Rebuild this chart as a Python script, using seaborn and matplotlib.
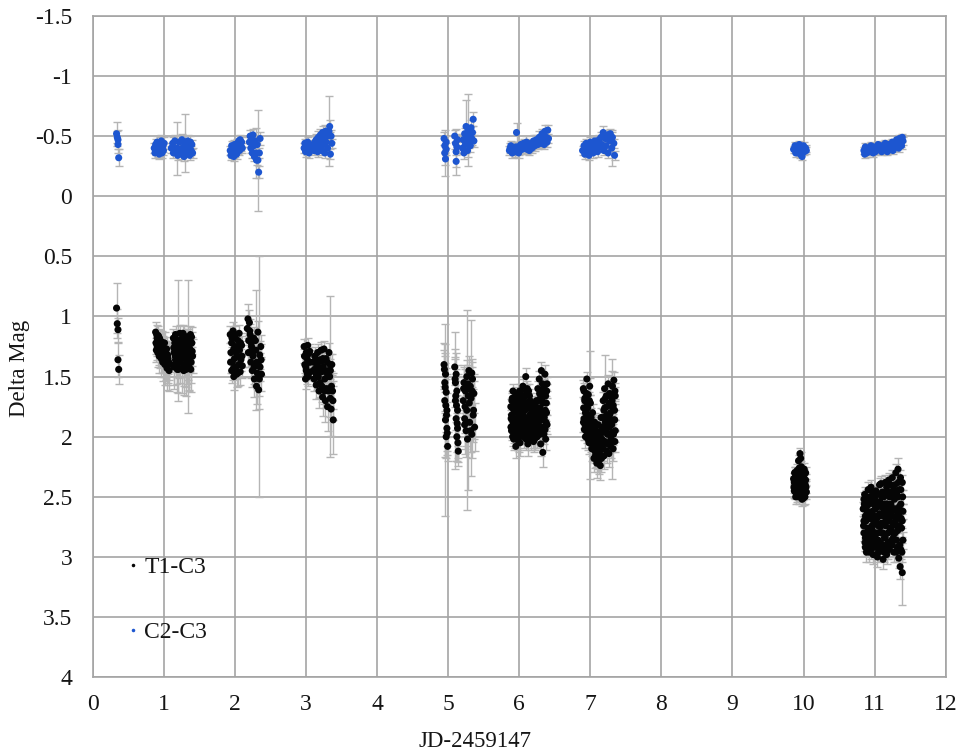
import numpy as np
import pandas as pd
import matplotlib
matplotlib.use("Agg")
import matplotlib.pyplot as plt
import seaborn as sns
from matplotlib.ticker import FuncFormatter

sns.set_theme(style="whitegrid")
plt.rcParams["font.family"] = ["Liberation Serif", "DejaVu Serif"]
plt.rcParams["axes.unicode_minus"] = False

SERIES = ["T1-C3", "C2-C3"]

# ---------------- T1-C3 : JD offset, delta mag, error, per night
t1_jd_n0 = [0.33, 0.34, 0.35, 0.35, 0.36]
t1_mag_n0 = [0.93, 1.06, 1.11, 1.36, 1.44]
t1_err_n0 = [0.21, 0.12, 0.10, 0.14, 0.12]

t1_jd_n1 = [0.88, 0.89, 0.90, 0.90, 0.91, 0.92, 0.93, 0.93, 0.94, 0.95, 0.96, 0.96, 0.97, 0.98, 0.99, 1.00,
            1.01, 1.02, 1.03, 1.04, 1.05, 1.06, 1.07,
            1.13, 1.14, 1.14, 1.15, 1.16, 1.16, 1.17, 1.18, 1.19, 1.19, 1.20, 1.21, 1.22, 1.22, 1.23, 1.24,
            1.25, 1.25, 1.26, 1.27, 1.28, 1.28, 1.29, 1.30, 1.31, 1.31, 1.32, 1.33, 1.34, 1.34, 1.35, 1.36,
            1.37, 1.37, 1.38, 1.39, 1.40,
            0.885, 0.895, 0.905, 0.915, 0.925, 0.935, 0.945, 0.955, 0.965, 0.975, 0.985, 0.995, 1.005, 1.015,
            1.025, 1.035, 1.045, 1.055, 1.065,
            1.135, 1.155, 1.175, 1.195, 1.215, 1.235, 1.255, 1.275, 1.295, 1.315, 1.335, 1.355, 1.375, 1.395,
            1.145, 1.185, 1.225, 1.265, 1.305, 1.345, 1.385]
t1_mag_n1 = [1.13, 1.28, 1.18, 1.24, 1.30, 1.16, 1.22, 1.33, 1.20, 1.27, 1.35, 1.23, 1.30, 1.38, 1.26, 1.33,
             1.40, 1.29, 1.36, 1.43, 1.32, 1.40, 1.45,
             1.18, 1.30, 1.42, 1.22, 1.36, 1.15, 1.27, 1.40, 1.20, 1.33, 1.44, 1.25, 1.14, 1.38, 1.29, 1.19,
             1.35, 1.43, 1.24, 1.31, 1.16, 1.40, 1.27, 1.35, 1.21, 1.44, 1.30, 1.18, 1.25, 1.37, 1.42, 1.32,
             1.15, 1.28, 1.38, 1.22, 1.33,
             1.22, 1.15, 1.26, 1.20, 1.29, 1.18, 1.31, 1.25, 1.21, 1.34, 1.29, 1.36, 1.22, 1.32,
             1.38, 1.27, 1.41, 1.35, 1.38,
             1.26, 1.33, 1.20, 1.29, 1.36, 1.21, 1.28, 1.45, 1.19, 1.39, 1.17, 1.26, 1.44, 1.29,
             1.40, 1.44, 1.32, 1.14, 1.41, 1.43, 1.17]
t1_err_n1 = [0.08, 0.10, 0.07, 0.09, 0.12, 0.08, 0.10, 0.14, 0.09, 0.11, 0.15, 0.08, 0.12, 0.16, 0.10, 0.13,
             0.17, 0.09, 0.14, 0.18, 0.11, 0.15, 0.17,
             0.08, 0.12, 0.18, 0.09, 0.14, 0.07, 0.11, 0.16, 0.50, 0.13, 0.20, 0.10, 0.07, 0.17, 0.12, 0.08,
             0.15, 0.21, 0.10, 0.13, 0.08, 0.18, 0.11, 0.15, 0.09, 0.22, 0.12, 0.08, 0.55, 0.16, 0.19, 0.13,
             0.07, 0.11, 0.17, 0.09, 0.14,
             0.09, 0.08, 0.10, 0.09, 0.11, 0.08, 0.12, 0.10, 0.09, 0.13, 0.11, 0.14, 0.09, 0.12,
             0.15, 0.10, 0.16, 0.13, 0.15,
             0.10, 0.13, 0.08, 0.11, 0.15, 0.09, 0.11, 0.20, 0.08, 0.17, 0.07, 0.10, 0.19, 0.12,
             0.17, 0.19, 0.13, 0.07, 0.18, 0.19, 0.08]

t1_jd_n2 = [1.93, 1.94, 1.95, 1.95, 1.96, 1.97, 1.98, 1.98, 1.99, 2.00, 2.01, 2.01, 2.02, 2.03, 2.04, 2.05,
            2.06, 2.07, 2.08, 2.09, 2.10,
            2.17, 2.18, 2.19, 2.20, 2.20, 2.21, 2.22, 2.23, 2.24, 2.25, 2.26, 2.27, 2.28, 2.29, 2.30, 2.31,
            2.32, 2.33, 2.33, 2.34, 2.35, 2.36, 2.37,
            1.935, 1.955, 1.975, 1.995, 2.015, 2.035, 2.055, 2.075, 2.095,
            2.185, 2.205, 2.225, 2.245, 2.265, 2.285, 2.305, 2.325, 2.345, 2.365]
t1_mag_n2 = [1.15, 1.30, 1.45, 1.22, 1.38, 1.12, 1.50, 1.27, 1.35, 1.18, 1.42, 1.25, 1.48, 1.33, 1.20, 1.40,
             1.28, 1.46, 1.36, 1.24, 1.41,
             1.10, 1.02, 1.20, 1.05, 1.30, 1.15, 1.38, 1.25, 1.45, 1.33, 1.18, 1.52, 1.40, 1.28, 1.58, 1.47,
             1.13, 1.50, 1.61, 1.52, 1.42, 1.25, 1.48,
             1.38, 1.18, 1.43, 1.15, 1.30, 1.47, 1.14, 1.22, 1.33,
             1.30, 1.12, 1.22, 1.30, 1.42, 1.20, 1.38, 1.40, 1.32, 1.36]
t1_err_n2 = [0.07, 0.09, 0.10, 0.08, 0.09, 0.07, 0.11, 0.08, 0.09, 0.07, 0.10, 0.08, 0.11, 0.09, 0.07, 0.10,
             0.08, 0.11, 0.09, 0.08, 0.10,
             0.10, 0.12, 0.09, 0.10, 0.12, 0.09, 0.13, 0.10, 0.14, 0.12, 0.09, 0.15, 0.13, 0.50, 0.15, 0.13,
             0.09, 1.00, 0.16, 0.14, 0.12, 0.10, 0.14,
             0.09, 0.07, 0.10, 0.07, 0.08, 0.11, 0.07, 0.08, 0.09,
             0.12, 0.10, 0.11, 0.12, 0.14, 0.10, 0.13, 0.14, 0.12, 0.13]

t1_jd_n3 = [2.97, 2.98, 2.99, 3.00, 3.00, 3.01, 3.02, 3.03, 3.04, 3.05, 3.06,
            3.10, 3.11, 3.12, 3.13, 3.14, 3.15, 3.16, 3.17, 3.18, 3.19, 3.20, 3.21, 3.22, 3.23, 3.24, 3.25,
            3.26, 3.27, 3.28, 3.29, 3.30, 3.31, 3.32, 3.33, 3.34, 3.35, 3.36, 3.37, 3.38,
            3.14, 3.18, 3.22, 3.26, 3.30, 3.34,
            2.975, 2.995, 3.015, 3.035, 3.055,
            3.115, 3.135, 3.155, 3.175, 3.195, 3.215, 3.235, 3.255, 3.275, 3.295, 3.315, 3.335, 3.355, 3.375]
t1_mag_n3 = [1.25, 1.40, 1.52, 1.30, 1.45, 1.35, 1.24, 1.50, 1.38, 1.29, 1.46,
             1.38, 1.52, 1.33, 1.45, 1.57, 1.40, 1.30, 1.50, 1.62, 1.36, 1.45, 1.28, 1.58, 1.67, 1.42, 1.27,
             1.52, 1.70, 1.35, 1.60, 1.75, 1.45, 1.30, 1.50, 1.68, 1.77, 1.40, 1.62, 1.86,
             1.48, 1.56, 1.37, 1.62, 1.50, 1.45,
             1.33, 1.42, 1.48, 1.31, 1.38,
             1.44, 1.36, 1.50, 1.42, 1.55, 1.46, 1.35, 1.60, 1.46, 1.38, 1.62, 1.40, 1.58, 1.70]
t1_err_n3 = [0.06, 0.07, 0.08, 0.06, 0.07, 0.06, 0.06, 0.08, 0.07, 0.06, 0.07,
             0.08, 0.10, 0.08, 0.09, 0.12, 0.09, 0.07, 0.10, 0.14, 0.08, 0.10, 0.07, 0.13, 0.16, 0.09, 0.07,
             0.12, 0.18, 0.08, 0.14, 0.20, 0.10, 0.08, 0.67, 0.16, 0.22, 0.09, 0.15, 0.28,
             0.10, 0.12, 0.08, 0.14, 0.11, 0.10,
             0.06, 0.07, 0.08, 0.06, 0.07,
             0.10, 0.08, 0.11, 0.09, 0.12, 0.10, 0.08, 0.13, 0.10, 0.09, 0.14, 0.09, 0.13, 0.16]

t1_jd_n5 = [4.94, 4.95, 4.95, 4.96, 4.96, 4.97, 4.97, 4.98, 4.98, 4.99,
            5.09, 5.10, 5.10, 5.11, 5.11, 5.12, 5.12, 5.13, 5.13, 5.14,
            5.21, 5.22, 5.23, 5.24, 5.25, 5.26, 5.26, 5.27, 5.28, 5.29, 5.30, 5.31, 5.32, 5.33, 5.34, 5.35,
            5.36, 5.37, 5.23, 5.29, 5.33,
            4.945, 4.955, 4.965, 4.975, 4.985,
            5.095, 5.105, 5.115, 5.125, 5.135,
            5.215, 5.235, 5.255, 5.275, 5.295, 5.315, 5.335, 5.355]
t1_mag_n5 = [1.40, 1.55, 1.70, 1.48, 1.86, 1.63, 2.00, 1.78, 1.93, 2.08,
             1.42, 1.55, 1.70, 1.48, 1.85, 1.62, 2.00, 1.78, 1.93, 2.12,
             1.70, 1.55, 1.85, 1.62, 1.95, 1.78, 1.50, 2.02, 1.66, 1.45, 1.88, 1.58, 1.68, 1.98, 1.52, 1.82,
             1.64, 1.92, 1.90, 1.60, 1.47,
             1.44, 1.59, 1.74, 1.82, 1.97,
             1.52, 1.66, 1.74, 1.89, 2.05,
             1.60, 1.75, 1.88, 1.56, 1.72, 1.95, 1.62, 1.78]
t1_err_n5 = [0.18, 0.25, 0.47, 0.15, 0.80, 0.20, 0.18, 0.30, 0.22, 0.12,
             0.15, 0.20, 0.57, 0.18, 0.35, 0.22, 0.20, 0.30, 0.25, 0.12,
             0.20, 0.15, 0.25, 0.18, 0.22, 0.83, 0.14, 0.42, 0.20, 0.12, 0.25, 0.16, 0.65, 0.20, 0.14, 0.22,
             0.16, 0.20, 0.24, 0.15, 0.12,
             0.16, 0.20, 0.22, 0.18, 0.15,
             0.18, 0.22, 0.20, 0.24, 0.16,
             0.18, 0.22, 0.20, 0.16, 0.22, 0.18, 0.20, 0.24]

t1_jd_n6 = [5.88, 5.89, 5.90, 5.91, 5.92, 5.93, 5.94, 5.95, 5.96, 5.97, 5.98, 5.99, 6.00, 6.01, 6.02, 6.03,
            6.04, 6.05, 6.06, 6.07, 6.08, 6.09, 6.10, 6.11, 6.12, 6.13, 6.14, 6.15, 6.16, 6.17, 6.18, 6.19,
            6.20, 6.21, 6.22, 6.23, 6.24, 6.25, 6.26, 6.27, 6.28, 6.29, 6.30, 6.31, 6.32, 6.33, 6.34, 6.35,
            6.36, 6.37, 6.38, 6.39,
            5.89, 5.91, 5.93, 5.95, 5.97, 5.99, 6.01, 6.03, 6.05, 6.07, 6.09, 6.11, 6.13, 6.15, 6.17, 6.19,
            6.21, 6.23, 6.25, 6.27, 6.29, 6.31, 6.33, 6.35, 6.37, 6.39,
            5.885, 5.905, 5.925, 5.945, 5.965, 5.985, 6.005, 6.025, 6.045, 6.065, 6.085, 6.105, 6.125,
            6.145, 6.165, 6.185, 6.205, 6.225, 6.245, 6.265, 6.285, 6.305, 6.325, 6.345, 6.365, 6.385,
            5.895, 5.935, 5.975, 6.015, 6.055, 6.095, 6.135, 6.175, 6.215, 6.255, 6.295, 6.335, 6.375,
            5.882, 5.902, 5.922, 5.942, 5.962, 5.982, 6.002, 6.022, 6.042, 6.062, 6.082, 6.102, 6.122,
            6.142, 6.162, 6.182, 6.202, 6.222, 6.242, 6.262, 6.282, 6.302, 6.322, 6.342, 6.362, 6.382]
t1_mag_n6 = [1.75, 1.95, 1.68, 1.88, 2.02, 1.72, 1.90, 2.08, 1.80, 1.65, 1.98, 1.85, 1.70, 2.05, 1.62, 1.92,
             1.78, 1.58, 2.00, 1.85, 1.66, 1.50, 1.95, 1.75, 2.06, 1.62, 1.88, 1.70, 2.02, 1.80, 1.92, 1.74,
             2.04, 1.85, 1.78, 1.96, 1.70, 2.00, 1.60, 1.88, 1.52, 1.76, 2.06, 1.45, 1.92, 2.13, 1.66, 1.84,
             1.48, 2.02, 1.72, 1.90,
             1.82, 1.62, 1.97, 1.86, 1.76, 2.04, 1.80, 1.68, 1.88, 1.98, 1.72, 1.60, 1.94, 1.82, 1.96, 2.00,
             1.76, 1.84, 1.80, 1.70, 1.98, 1.62, 1.80, 1.58, 1.66, 1.56,
             1.85, 2.00, 1.78, 1.66, 1.94, 1.74, 1.90, 1.98, 1.66, 1.76, 1.90, 1.62, 1.84,
             1.98, 1.74, 1.86, 1.94, 1.88, 1.82, 1.94, 1.64, 1.86, 1.56, 1.98, 1.78, 1.62,
             1.70, 1.85, 2.02, 1.72, 1.82, 2.02, 1.76, 1.90, 2.02, 1.90, 1.68, 1.72, 1.88,
             1.92, 1.76, 1.86, 2.00, 1.70, 2.02, 1.62, 1.82, 1.94, 1.68, 1.78, 1.88, 1.96,
             1.66, 1.90, 1.98, 1.80, 1.72, 2.00, 1.76, 1.84, 1.94, 1.68, 1.60, 1.94, 1.80]
t1_err_n6 = [0.06, 0.08, 0.06, 0.07, 0.09, 0.06, 0.07, 0.10, 0.06, 0.06, 0.08, 0.07, 0.06, 0.11, 0.06, 0.08,
             0.07, 0.06, 0.09, 0.07, 0.06, 0.07, 0.08, 0.06, 0.10, 0.06, 0.07, 0.06, 0.09, 0.07, 0.08, 0.06,
             0.09, 0.07, 0.06, 0.08, 0.06, 0.09, 0.06, 0.07, 0.07, 0.06, 0.10, 0.07, 0.08, 0.12, 0.06, 0.07,
             0.08, 0.09, 0.06, 0.08,
             0.07, 0.06, 0.08, 0.07, 0.06, 0.09, 0.07, 0.06, 0.08, 0.08, 0.06, 0.06, 0.08, 0.07, 0.08, 0.09,
             0.06, 0.07, 0.07, 0.06, 0.08, 0.06, 0.07, 0.06, 0.06, 0.06,
             0.07, 0.08, 0.07, 0.06, 0.08, 0.07, 0.07, 0.08, 0.06, 0.07, 0.07, 0.06, 0.07,
             0.08, 0.06, 0.07, 0.08, 0.07, 0.07, 0.08, 0.06, 0.07, 0.06, 0.08, 0.07, 0.06,
             0.06, 0.07, 0.09, 0.06, 0.07, 0.09, 0.06, 0.07, 0.09, 0.07, 0.06, 0.06, 0.07,
             0.08, 0.07, 0.07, 0.09, 0.06, 0.09, 0.06, 0.07, 0.08, 0.06, 0.07, 0.07, 0.08,
             0.06, 0.07, 0.08, 0.07, 0.06, 0.09, 0.07, 0.07, 0.08, 0.06, 0.06, 0.08, 0.07]

t1_jd_n7 = [6.90, 6.91, 6.92, 6.93, 6.94, 6.95, 6.96, 6.97, 6.98, 6.99, 7.00, 7.01, 7.02, 7.03, 7.04, 7.05,
            7.06, 7.07, 7.08, 7.09, 7.10, 7.11, 7.12, 7.13, 7.14, 7.15, 7.16, 7.17, 7.18, 7.19, 7.20, 7.21,
            7.22, 7.23, 7.24, 7.25, 7.26, 7.27, 7.28, 7.29, 7.30, 7.31, 7.32, 7.33, 7.34, 7.35,
            6.91, 6.93, 6.95, 6.97, 6.99, 7.01, 7.03, 7.05, 7.07, 7.09, 7.11, 7.13, 7.17, 7.19, 7.21, 7.23,
            7.25, 7.27, 7.29, 7.31, 7.33, 7.35,
            6.905, 6.925, 6.945, 6.965, 6.985, 7.005, 7.025, 7.045, 7.065, 7.085, 7.105, 7.125, 7.145,
            7.165, 7.185, 7.205, 7.225, 7.245, 7.265, 7.285, 7.305, 7.325, 7.345,
            6.915, 6.955, 6.995, 7.035, 7.075, 7.115, 7.155, 7.195, 7.235, 7.275, 7.315, 7.345,
            6.902, 6.922, 6.942, 6.962, 6.982, 7.002, 7.022, 7.042, 7.062, 7.082, 7.102, 7.122, 7.142,
            7.162, 7.182, 7.202, 7.222, 7.242, 7.262, 7.282, 7.302, 7.322, 7.342]
t1_mag_n7 = [1.60, 1.85, 1.70, 2.00, 1.78, 1.52, 1.92, 1.65, 2.05, 1.82, 1.72, 1.95, 2.10, 1.80, 2.02, 2.18,
             1.88, 2.08, 1.95, 2.22, 2.12, 1.90, 2.20, 2.02, 2.24, 1.84, 2.10, 1.96, 1.70, 2.16, 1.60, 1.88,
             2.05, 1.75, 1.98, 1.56, 2.14, 1.82, 1.66, 2.02, 1.90, 1.58, 2.10, 1.53, 1.78, 1.95,
             1.62, 1.80, 1.96, 1.88, 1.58, 1.84, 1.98, 1.92, 2.16, 2.04, 2.18, 2.12, 2.06, 1.78, 1.68, 2.12,
             1.86, 1.64, 1.74, 1.96, 1.86, 1.66,
             1.76, 1.90, 1.64, 2.02, 1.70, 1.90, 2.06, 1.94, 2.12, 1.98, 2.16, 1.96, 2.08,
             1.92, 1.84, 2.04, 1.66, 1.90, 1.72, 2.08, 1.70, 1.98, 1.62,
             1.94, 1.72, 2.00, 1.90, 2.02, 2.06, 2.18, 1.96, 1.82, 1.98, 1.76, 2.04,
             1.88, 1.68, 1.84, 1.76, 1.94, 2.04, 1.92, 2.10, 2.00, 2.14, 2.06, 2.14, 1.98,
             2.02, 2.10, 1.76, 1.94, 2.06, 1.92, 1.80, 2.04, 1.74, 1.86]
t1_err_n7 = [0.07, 0.08, 0.07, 0.09, 0.07, 0.06, 0.08, 0.07, 0.09, 0.53, 0.07, 0.08, 0.10, 0.07, 0.09, 0.11,
             0.08, 0.09, 0.08, 0.12, 0.10, 0.08, 0.11, 0.09, 0.12, 0.08, 0.10, 0.08, 0.07, 0.11, 0.28, 0.08,
             0.10, 0.07, 0.09, 0.07, 0.11, 0.08, 0.07, 0.10, 0.45, 0.23, 0.10, 0.07, 0.08, 0.09,
             0.07, 0.08, 0.09, 0.08, 0.07, 0.08, 0.09, 0.08, 0.10, 0.09, 0.11, 0.10, 0.09, 0.08, 0.07, 0.10,
             0.08, 0.07, 0.08, 0.09, 0.08, 0.07,
             0.08, 0.09, 0.07, 0.09, 0.07, 0.08, 0.10, 0.09, 0.10, 0.09, 0.11, 0.09, 0.10,
             0.09, 0.08, 0.09, 0.07, 0.08, 0.07, 0.10, 0.07, 0.09, 0.07,
             0.09, 0.07, 0.09, 0.08, 0.10, 0.10, 0.11, 0.09, 0.08, 0.09, 0.08, 0.09,
             0.08, 0.07, 0.08, 0.07, 0.09, 0.09, 0.08, 0.10, 0.09, 0.11, 0.10, 0.11, 0.09,
             0.09, 0.10, 0.07, 0.09, 0.10, 0.08, 0.08, 0.09, 0.07, 0.08]

t1_jd_n10 = [9.86, 9.87, 9.88, 9.89, 9.90, 9.91, 9.92, 9.93, 9.94, 9.95, 9.96, 9.97, 9.98, 9.99, 10.00, 10.01,
             10.02, 10.03, 10.04,
             9.87, 9.89, 9.91, 9.93, 9.94, 9.95, 9.96, 9.97, 9.99, 10.01, 10.03, 9.92, 9.98, 10.00,
             9.865, 9.875, 9.885, 9.895, 9.905, 9.915, 9.925, 9.935, 9.945, 9.955, 9.965, 9.975, 9.985,
             9.995, 10.005, 10.015, 10.025, 10.035]
t1_mag_n10 = [2.35, 2.45, 2.30, 2.50, 2.40, 2.28, 2.48, 2.20, 2.38, 2.14, 2.44, 2.25, 2.52, 2.33, 2.42, 2.27,
              2.50, 2.36, 2.46,
              2.38, 2.32, 2.42, 2.50, 2.26, 2.32, 2.18, 2.40, 2.47, 2.36, 2.30, 2.36, 2.29, 2.51,
              2.42, 2.30, 2.46, 2.36, 2.32, 2.48, 2.42, 2.30, 2.46, 2.40, 2.30, 2.34, 2.44,
              2.38, 2.32, 2.44, 2.40, 2.42]
t1_err_n10 = [0.05, 0.06, 0.05, 0.06, 0.05, 0.05, 0.06, 0.05, 0.05, 0.05, 0.06, 0.05, 0.06, 0.05, 0.05, 0.05,
              0.06, 0.05, 0.06,
              0.05, 0.05, 0.05, 0.06, 0.05, 0.05, 0.05, 0.05, 0.06, 0.05, 0.05, 0.05, 0.05, 0.06,
              0.05, 0.05, 0.06, 0.05, 0.05, 0.06, 0.05, 0.05, 0.06, 0.05, 0.05, 0.05, 0.06,
              0.05, 0.05, 0.06, 0.05, 0.05]

t1_jd_n11 = [10.84, 10.85, 10.86, 10.87, 10.88, 10.89, 10.90, 10.91, 10.92, 10.93, 10.94, 10.95, 10.96, 10.97,
             10.98, 10.99, 11.00, 11.01, 11.02, 11.03, 11.04, 11.05, 11.06, 11.07, 11.08, 11.09, 11.10, 11.11,
             11.12, 11.13, 11.14, 11.15, 11.16, 11.17, 11.18, 11.19, 11.20, 11.21, 11.22, 11.23, 11.24, 11.25,
             11.26, 11.27, 11.28, 11.29, 11.30, 11.31, 11.32, 11.33, 11.34, 11.35, 11.36, 11.37, 11.38, 11.39,
             11.40,
             10.85, 10.87, 10.89, 10.91, 10.93, 10.95, 10.97, 10.99, 11.01, 11.03, 11.05, 11.07, 11.09, 11.11,
             11.13, 11.15, 11.17, 11.19, 11.21, 11.23, 11.25, 11.27, 11.29, 11.31, 11.33, 11.35, 11.37, 11.39,
             11.40,
             10.845, 10.855, 10.865, 10.875, 10.885, 10.895, 10.905, 10.915, 10.925, 10.935,
             10.945, 10.955, 10.965, 10.975, 10.985, 10.995, 11.005, 11.015, 11.025, 11.035,
             11.045, 11.055, 11.065, 11.075, 11.085, 11.095, 11.105, 11.115, 11.125, 11.135,
             11.145, 11.155, 11.165, 11.175, 11.185, 11.195, 11.205, 11.215, 11.225, 11.235,
             11.245, 11.255, 11.265, 11.275, 11.285, 11.295, 11.305, 11.315, 11.325, 11.335,
             11.345, 11.355, 11.365, 11.375, 11.385, 11.395,
             10.85, 10.87, 10.89, 10.91, 10.93, 10.95, 10.97, 10.99, 11.01, 11.03, 11.05, 11.07, 11.09, 11.11,
             11.13, 11.15, 11.17, 11.19, 11.21, 11.23, 11.25, 11.27, 11.29, 11.31, 11.33, 11.35, 11.37, 11.39]
t1_mag_n11 = [2.60, 2.80, 2.48, 2.92, 2.70, 2.55, 2.85, 2.65, 2.96, 2.50, 2.76, 2.42, 2.88, 2.62,
              2.98, 2.72, 2.52, 2.82, 2.45, 2.68, 3.00, 2.58, 2.90, 2.40, 2.75, 2.39, 2.95, 2.64,
              3.02, 2.50, 2.84, 2.38, 2.70, 2.98, 2.56, 2.80, 2.36, 2.92, 2.62, 2.46, 2.86, 2.34,
              2.72, 2.96, 2.52, 2.80, 2.30, 2.66, 2.92, 2.27, 3.01, 2.58, 3.08, 2.44, 2.76, 3.13,
              2.62,
              2.52, 2.66, 2.86, 2.44, 2.82, 2.68, 2.46, 2.90, 2.60, 2.86, 2.74, 2.94, 2.58, 2.46,
              2.92, 2.62, 2.42, 2.66, 2.50, 2.76, 2.90, 2.44, 2.60, 2.86, 2.50, 2.74, 2.94, 2.38,
              2.86,
              2.74, 2.56, 2.88, 2.50, 2.96, 2.62, 2.76, 2.90, 2.56, 2.68,
              2.94, 2.54, 2.74, 2.84, 2.48, 2.66, 2.92, 2.70, 2.56, 2.80,
              2.48, 2.96, 2.66, 2.54, 2.88, 2.72, 2.50, 2.80, 2.66, 2.96,
              2.56, 2.74, 2.90, 2.46, 2.70, 2.94, 2.58, 2.76, 2.40, 2.88,
              2.62, 2.50, 2.84, 2.60, 2.40, 2.70, 2.96, 2.48, 2.78, 2.38,
              2.66, 2.90, 2.34, 2.68, 2.96, 2.50,
              2.70, 2.84, 2.58, 2.78, 2.64, 2.86, 2.78, 2.56, 2.72, 2.54, 2.86, 2.64, 2.80, 2.72,
              2.60, 2.84, 2.56, 2.88, 2.70, 2.56, 2.66, 2.80, 2.48, 2.74, 2.62, 2.44, 2.56, 2.70]
t1_err_n11 = [0.06, 0.07, 0.06, 0.07, 0.06, 0.06, 0.07, 0.06, 0.08, 0.06, 0.07, 0.06, 0.07, 0.06,
              0.08, 0.06, 0.06, 0.07, 0.06, 0.06, 0.08, 0.06, 0.07, 0.06, 0.07, 0.06, 0.08, 0.06,
              0.08, 0.06, 0.07, 0.06, 0.06, 0.08, 0.06, 0.07, 0.06, 0.08, 0.06, 0.06, 0.07, 0.06,
              0.06, 0.08, 0.06, 0.07, 0.07, 0.06, 0.08, 0.09, 0.08, 0.06, 0.10, 0.06, 0.07, 0.27,
              0.06,
              0.06, 0.06, 0.07, 0.06, 0.07, 0.06, 0.06, 0.08, 0.06, 0.07, 0.06, 0.08, 0.06, 0.06,
              0.08, 0.06, 0.06, 0.06, 0.06, 0.07, 0.07, 0.06, 0.06, 0.07, 0.06, 0.06, 0.08, 0.06,
              0.07,
              0.07, 0.06, 0.07, 0.06, 0.08, 0.06, 0.07, 0.07, 0.06, 0.06,
              0.08, 0.06, 0.07, 0.07, 0.06, 0.06, 0.08, 0.06, 0.06, 0.07,
              0.06, 0.08, 0.06, 0.06, 0.07, 0.07, 0.06, 0.07, 0.06, 0.08,
              0.06, 0.07, 0.07, 0.06, 0.06, 0.08, 0.06, 0.07, 0.06, 0.07,
              0.06, 0.06, 0.07, 0.06, 0.06, 0.06, 0.08, 0.06, 0.07, 0.06,
              0.06, 0.07, 0.06, 0.06, 0.08, 0.06,
              0.06, 0.07, 0.06, 0.07, 0.06, 0.07, 0.07, 0.06, 0.06, 0.06, 0.07, 0.06, 0.07, 0.06,
              0.06, 0.07, 0.06, 0.07, 0.06, 0.06, 0.06, 0.07, 0.06, 0.06, 0.06, 0.06, 0.06, 0.06]

# ---------------- C2-C3 check-star differences
c2_jd_n0 = [0.33, 0.34, 0.35, 0.35, 0.36]
c2_mag_n0 = [-0.52, -0.49, -0.47, -0.43, -0.32]
c2_err_n0 = [0.10, 0.05, 0.08, 0.07, 0.07]

c2_jd_n1 = [0.86, 0.87, 0.88, 0.89, 0.90, 0.91, 0.92, 0.93, 0.94, 0.95, 0.96, 0.97, 0.98, 0.99, 1.00,
            1.10, 1.12, 1.13, 1.15, 1.16, 1.18, 1.19, 1.21, 1.22, 1.24, 1.25, 1.27, 1.28, 1.30, 1.31, 1.33,
            1.34, 1.36, 1.37, 1.38, 1.39, 1.40]
c2_mag_n1 = [-0.40, -0.36, -0.43, -0.38, -0.45, -0.37, -0.42, -0.35, -0.44, -0.39, -0.46, -0.36, -0.41, -0.38,
             -0.44,
             -0.40, -0.44, -0.36, -0.46, -0.38, -0.40, -0.34, -0.45, -0.39, -0.35, -0.47, -0.41, -0.33, -0.44,
             -0.37, -0.46, -0.40, -0.34, -0.45, -0.38, -0.43, -0.36]
c2_err_n1 = [0.04, 0.04, 0.05, 0.04, 0.05, 0.04, 0.04, 0.04, 0.05, 0.04, 0.05, 0.04, 0.04, 0.04, 0.05,
             0.04, 0.05, 0.04, 0.05, 0.04, 0.22, 0.04, 0.05, 0.04, 0.04, 0.05, 0.04, 0.04, 0.24, 0.04, 0.05,
             0.04, 0.04, 0.05, 0.04, 0.04, 0.04]

c2_jd_n2 = [1.93, 1.94, 1.95, 1.96, 1.97, 1.98, 1.99, 2.00, 2.01, 2.02, 2.03, 2.04, 2.05, 2.06, 2.07, 2.08,
            2.09, 2.10,
            2.20, 2.21, 2.22, 2.23, 2.24, 2.25, 2.26, 2.27, 2.28, 2.29, 2.30, 2.31, 2.32, 2.33, 2.34, 2.35]
c2_mag_n2 = [-0.38, -0.34, -0.42, -0.36, -0.40, -0.33, -0.43, -0.37, -0.41, -0.35, -0.44, -0.39, -0.46, -0.38,
             -0.47, -0.42, -0.45, -0.40,
             -0.45, -0.50, -0.40, -0.47, -0.36, -0.51, -0.42, -0.33, -0.46, -0.36, -0.30, -0.43, -0.30, -0.20,
             -0.36, -0.48]
c2_err_n2 = [0.04, 0.04, 0.04, 0.04, 0.04, 0.04, 0.04, 0.04, 0.04, 0.04, 0.04, 0.04, 0.04, 0.04, 0.04, 0.04,
             0.04, 0.04,
             0.04, 0.05, 0.04, 0.05, 0.04, 0.05, 0.04, 0.04, 0.05, 0.21, 0.04, 0.05, 0.42, 0.05, 0.04, 0.05]

c2_jd_n3 = [2.97, 2.98, 2.99, 3.00, 3.01, 3.02, 3.03, 3.04, 3.05,
            3.10, 3.11, 3.12, 3.13, 3.14, 3.15, 3.16, 3.17, 3.18, 3.19, 3.20, 3.21, 3.22, 3.23, 3.24, 3.25,
            3.26, 3.27, 3.28, 3.29, 3.30, 3.31, 3.32, 3.33, 3.34, 3.35, 3.36]
c2_mag_n3 = [-0.40, -0.44, -0.37, -0.42, -0.38, -0.45, -0.39, -0.36, -0.43,
             -0.42, -0.38, -0.45, -0.40, -0.47, -0.42, -0.37, -0.49, -0.44, -0.40, -0.51, -0.46, -0.38, -0.53,
             -0.43, -0.49, -0.36, -0.54, -0.45, -0.50, -0.40, -0.53, -0.54, -0.58, -0.35, -0.50, -0.44]
c2_err_n3 = [0.04, 0.04, 0.04, 0.04, 0.04, 0.04, 0.04, 0.04, 0.04,
             0.04, 0.04, 0.05, 0.04, 0.05, 0.04, 0.04, 0.05, 0.04, 0.04, 0.05, 0.05, 0.04, 0.05, 0.04, 0.05,
             0.04, 0.05, 0.04, 0.05, 0.04, 0.05, 0.29, 0.05, 0.04, 0.05, 0.04]

c2_jd_n5 = [4.94, 4.95, 4.95, 4.96, 4.97, 4.97,
            5.09, 5.10, 5.11, 5.11, 5.12, 5.13,
            5.20, 5.21, 5.22, 5.23, 5.24, 5.25, 5.26, 5.27, 5.28, 5.29, 5.30, 5.31, 5.32, 5.33, 5.34, 5.35,
            5.36]
c2_mag_n5 = [-0.48, -0.42, -0.36, -0.31, -0.45, -0.39,
             -0.50, -0.44, -0.37, -0.29, -0.41, -0.47,
             -0.40, -0.47, -0.36, -0.52, -0.43, -0.58, -0.48, -0.38, -0.55, -0.45, -0.50, -0.42, -0.57, -0.48,
             -0.53, -0.64, -0.46]
c2_err_n5 = [0.05, 0.05, 0.19, 0.05, 0.05, 0.05,
             0.05, 0.05, 0.19, 0.05, 0.05, 0.05,
             0.05, 0.05, 0.05, 0.05, 0.05, 0.22, 0.05, 0.05, 0.30, 0.05, 0.05, 0.05, 0.06, 0.05,
             0.05, 0.06, 0.05]

c2_jd_n6 = [5.86, 5.88, 5.90, 5.92, 5.94, 5.96, 5.98, 6.00, 6.02, 6.04, 6.06, 6.08, 6.10, 6.12, 6.14, 6.16,
            6.18, 6.20, 6.22, 6.24, 6.26, 6.28, 6.30, 6.32, 6.34, 6.36, 6.38, 6.40, 6.41,
            5.87, 5.91, 5.95, 5.99, 6.03, 6.07, 6.11, 6.15, 6.19, 6.23, 6.27, 6.31, 6.35, 6.39]
c2_mag_n6 = [-0.38, -0.42, -0.36, -0.40, -0.37, -0.53, -0.41, -0.38, -0.43, -0.39, -0.44, -0.40, -0.45, -0.41,
             -0.38, -0.44, -0.40, -0.46, -0.42, -0.47, -0.43, -0.49, -0.45, -0.52, -0.47, -0.54, -0.49, -0.55,
             -0.48,
             -0.40, -0.38, -0.41, -0.36, -0.40, -0.42, -0.39, -0.42, -0.43, -0.44, -0.46, -0.44, -0.43, -0.45]
c2_err_n6 = [0.04, 0.04, 0.04, 0.04, 0.04, 0.08, 0.04, 0.04, 0.04, 0.04, 0.04, 0.04, 0.05, 0.04, 0.04, 0.04,
             0.04, 0.05, 0.04, 0.04, 0.04, 0.05, 0.04, 0.04, 0.04, 0.05, 0.04, 0.04, 0.04,
             0.04, 0.04, 0.04, 0.04, 0.04, 0.04, 0.04, 0.04, 0.04, 0.04, 0.04, 0.04, 0.04, 0.04]

c2_jd_n7 = [6.89, 6.91, 6.92, 6.94, 6.95, 6.97, 6.98, 7.00, 7.01, 7.03, 7.04, 7.06, 7.07, 7.09, 7.10, 7.12,
            7.13, 7.15, 7.16, 7.18, 7.19, 7.21, 7.22, 7.24, 7.25, 7.27, 7.28, 7.30, 7.31, 7.33, 7.34]
c2_mag_n7 = [-0.38, -0.42, -0.35, -0.44, -0.37, -0.41, -0.34, -0.45, -0.39, -0.43, -0.36, -0.46, -0.40, -0.44,
             -0.37, -0.47, -0.41, -0.49, -0.43, -0.53, -0.38, -0.48, -0.42, -0.51, -0.36, -0.46, -0.52, -0.40,
             -0.49, -0.44, -0.34]
c2_err_n7 = [0.04, 0.04, 0.04, 0.04, 0.04, 0.04, 0.04, 0.04, 0.04, 0.04, 0.04, 0.04, 0.04, 0.04, 0.04, 0.04,
             0.04, 0.04, 0.04, 0.05, 0.04, 0.04, 0.04, 0.04, 0.04, 0.04, 0.04, 0.15, 0.04, 0.04, 0.04]

c2_jd_n10 = [9.86, 9.88, 9.89, 9.91, 9.92, 9.94, 9.95, 9.97, 9.98, 10.00, 10.01, 10.03, 10.04]
c2_mag_n10 = [-0.39, -0.42, -0.36, -0.41, -0.38, -0.43, -0.35, -0.40, -0.33, -0.42, -0.37, -0.40, -0.38]
c2_err_n10 = [0.03, 0.03, 0.03, 0.03, 0.03, 0.03, 0.03, 0.03, 0.03, 0.03, 0.03, 0.03, 0.03]

c2_jd_n11 = [10.85, 10.87, 10.89, 10.91, 10.93, 10.95, 10.97, 10.99, 11.01, 11.03, 11.05, 11.07, 11.09, 11.11,
             11.13, 11.15, 11.17, 11.19, 11.21, 11.23, 11.25, 11.27, 11.29, 11.31, 11.33, 11.35, 11.37, 11.39,
             11.40,
             10.86, 10.90, 10.94, 10.98, 11.02, 11.06, 11.10, 11.14, 11.18, 11.22, 11.26, 11.30, 11.34, 11.38]
c2_mag_n11 = [-0.38, -0.41, -0.36, -0.40, -0.37, -0.42, -0.38, -0.41, -0.37, -0.40, -0.43, -0.39, -0.42, -0.38,
              -0.41, -0.44, -0.40, -0.43, -0.39, -0.42, -0.45, -0.41, -0.44, -0.47, -0.42, -0.48, -0.44, -0.49,
              -0.46,
              -0.35, -0.37, -0.39, -0.36, -0.38, -0.41, -0.37, -0.39, -0.37, -0.40, -0.38, -0.41, -0.40, -0.42]
c2_err_n11 = [0.03, 0.03, 0.03, 0.03, 0.03, 0.03, 0.03, 0.03, 0.03, 0.03, 0.03, 0.03, 0.03, 0.03,
              0.03, 0.03, 0.03, 0.03, 0.03, 0.03, 0.03, 0.03, 0.03, 0.03, 0.03, 0.03, 0.03, 0.03, 0.03,
              0.03, 0.03, 0.03, 0.03, 0.03, 0.03, 0.03, 0.03, 0.03, 0.03, 0.03, 0.03, 0.03, 0.03]

# axis ticks
x_ticks = list(range(0, 13))
y_ticks = [-1.5, -1.0, -0.5, 0.0, 0.5, 1.0, 1.5, 2.0, 2.5, 3.0, 3.5, 4.0]

# ---------------- tidy table
t1_jd = t1_jd_n0 + t1_jd_n1 + t1_jd_n2 + t1_jd_n3 + t1_jd_n5 + t1_jd_n6 + t1_jd_n7 + t1_jd_n10 + t1_jd_n11
t1_mag = t1_mag_n0 + t1_mag_n1 + t1_mag_n2 + t1_mag_n3 + t1_mag_n5 + t1_mag_n6 + t1_mag_n7 + t1_mag_n10 + t1_mag_n11
t1_err = t1_err_n0 + t1_err_n1 + t1_err_n2 + t1_err_n3 + t1_err_n5 + t1_err_n6 + t1_err_n7 + t1_err_n10 + t1_err_n11
c2_jd = c2_jd_n0 + c2_jd_n1 + c2_jd_n2 + c2_jd_n3 + c2_jd_n5 + c2_jd_n6 + c2_jd_n7 + c2_jd_n10 + c2_jd_n11
c2_mag = c2_mag_n0 + c2_mag_n1 + c2_mag_n2 + c2_mag_n3 + c2_mag_n5 + c2_mag_n6 + c2_mag_n7 + c2_mag_n10 + c2_mag_n11
c2_err = c2_err_n0 + c2_err_n1 + c2_err_n2 + c2_err_n3 + c2_err_n5 + c2_err_n6 + c2_err_n7 + c2_err_n10 + c2_err_n11

df = pd.DataFrame({
    "jd": t1_jd + c2_jd,
    "mag": t1_mag + c2_mag,
    "err": t1_err + c2_err,
    "series": [SERIES[0]] * len(t1_jd) + [SERIES[1]] * len(c2_jd),
})

GRID = "#a4a4a4"
TEXT = "#151515"

fig = plt.figure(figsize=(9.6, 7.55), dpi=100)
ax = fig.add_axes([0.097, 0.103, 0.888, 0.876])

# error bars underneath the points
for name in SERIES:
    sub = df[df["series"] == name]
    ax.errorbar(sub["jd"], sub["mag"], yerr=sub["err"], fmt="none", ecolor="#b5b5b5",
                elinewidth=1.0, capsize=3.2, capthick=1.0, zorder=2)

sns.scatterplot(data=df, x="jd", y="mag", hue="series", hue_order=SERIES,
                palette={"T1-C3": "#050505", "C2-C3": "#1d56d0"},
                s=26, linewidth=0, edgecolor="none", ax=ax, zorder=3)

ax.set_xlim(0, 12)
ax.set_ylim(4, -1.5)
ax.set_xticks(x_ticks)
ax.set_yticks(y_ticks)
ax.yaxis.set_major_formatter(FuncFormatter(lambda v, _: f"{v:g}"))
ax.xaxis.set_major_formatter(FuncFormatter(lambda v, _: f"{v:g}"))
ax.grid(True, color=GRID, linewidth=1.2)
ax.set_axisbelow(True)
for sp in ax.spines.values():
    sp.set_visible(True)
    sp.set_color(GRID)
    sp.set_linewidth(1.2)
ax.tick_params(axis="both", length=0, labelsize=17, colors=TEXT)
ax.tick_params(axis="y", pad=15)
ax.tick_params(axis="x", pad=12)

ax.set_xlabel("JD-2459147", fontsize=16.5, color=TEXT)
ax.set_ylabel("Delta Mag", fontsize=16.5, color=TEXT)
ax.xaxis.set_label_coords(0.448, -0.082)
ax.yaxis.set_label_coords(-0.074, 0.467)

leg = ax.get_legend()
handles = leg.legend_handles
labels = [t.get_text() for t in leg.get_texts()]
leg.remove()
ax.legend(handles, labels, loc="upper left", bbox_to_anchor=(0.013, 0.215), frameon=False,
          fontsize=17, labelspacing=1.85, handlelength=0.6, handletextpad=0.2,
          markerscale=0.5, labelcolor=TEXT)

fig.savefig("out.png", dpi=100)
